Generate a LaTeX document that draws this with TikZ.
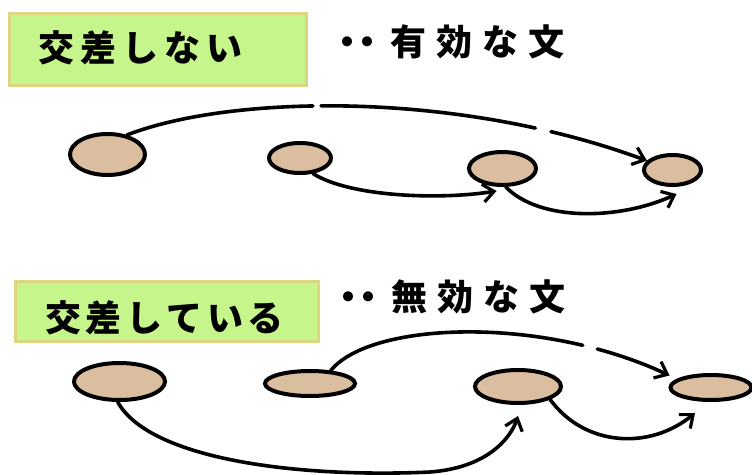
\documentclass[tikz,border=0pt]{standalone}
\usepackage{fontspec}
\newfontfamily\jp{Noto Sans CJK JP}
\usetikzlibrary{shapes.geometric,arrows.meta}
\definecolor{nodefill}{HTML}{DBBEA0}
\definecolor{boxfill}{HTML}{C6F58C}
\definecolor{boxedge}{HTML}{DCD682}
\begin{document}
\begin{tikzpicture}[x=1pt,y=-1pt,
  blob/.style={ellipse, draw=black, line width=4pt, fill=nodefill, inner sep=0pt},
  lbl/.style={inner sep=0pt, anchor=base west, font=\jp\bfseries\fontsize{36}{40}\selectfont},
  box/.style={draw=boxedge, fill=boxfill, line width=3pt, inner sep=0pt},
  link/.style={line width=3.6pt, line cap=round, -{Straight Barb[length=11pt,width=18pt,line width=3.2pt]}}]
\useasboundingbox (0,0) rectangle (752,474);

% title boxes
\node[box, minimum width=297pt, minimum height=72pt] (box1) at (158,49.5) {};
\node[lbl] (lab1) at (38,61) {交\kern6pt 差\kern6pt し\kern6pt な\kern6pt い};
\node[lbl] (sub1) at (329,55) {・\kern-16pt・\kern5pt 有\kern10pt 効\kern10pt な\kern10pt 文};

\node[box, minimum width=303pt, minimum height=60pt] (box2) at (167,311.5) {};
\node[lbl] (lab2) at (45,331) {交\kern4.5pt 差\kern4.5pt し\kern4.5pt て\kern4.5pt い\kern4.5pt る};
\node[lbl] (sub2) at (330,310) {・\kern-16pt・\kern5pt 無\kern10pt 効\kern10pt な\kern10pt 文};

% top: not crossing
\node[blob, minimum width=75pt, minimum height=41pt] (t1) at (107.5,154.5) {};
\node[blob, minimum width=62pt, minimum height=30pt] (t2) at (300,158) {};
\node[blob, minimum width=67pt, minimum height=33pt] (t3) at (502.5,168.5) {};
\node[blob, minimum width=57pt, minimum height=30pt] (t4) at (672.5,170) {};

\draw[link, dash pattern=on 189pt off 8pt on 216pt off 16pt on 400pt]
  (t1.45) .. controls (230,95) and (455,90) .. (t4.160);
\draw[link] (t2.-50) .. controls (350,197) and (440,200) .. ([shift={(-6,4)}]t3.south);
\draw[link] (t3.-80) .. controls (540,222) and (620,220) .. ([shift={(4,7)}]t4.south);

% bottom: crossing
\node[blob, minimum width=91pt, minimum height=37pt] (b1) at (119.5,381.5) {};
\node[blob, minimum width=90pt, minimum height=25pt] (b2) at (310,383.5) {};
\node[blob, minimum width=86pt, minimum height=33pt] (b3) at (518,386.5) {};
\node[blob, minimum width=81pt, minimum height=25pt] (b4) at (711,387.5) {};

\draw[link, dash pattern=on 262pt off 15pt on 400pt]
  (b2.32) .. controls (370,322) and (540,315) .. ([shift={(1,-12)}]b4.west);
\draw[link] (b1.-95) .. controls (150,460) and (300,478) .. (430,472)
  .. controls (485,468) and (510,440) .. ([shift={(0,11)}]b3.south);
\draw[link] (b3.-22) .. controls (585,447) and (650,450) .. ([shift={(-16,11)}]b4.south);
\end{tikzpicture}
\end{document}
